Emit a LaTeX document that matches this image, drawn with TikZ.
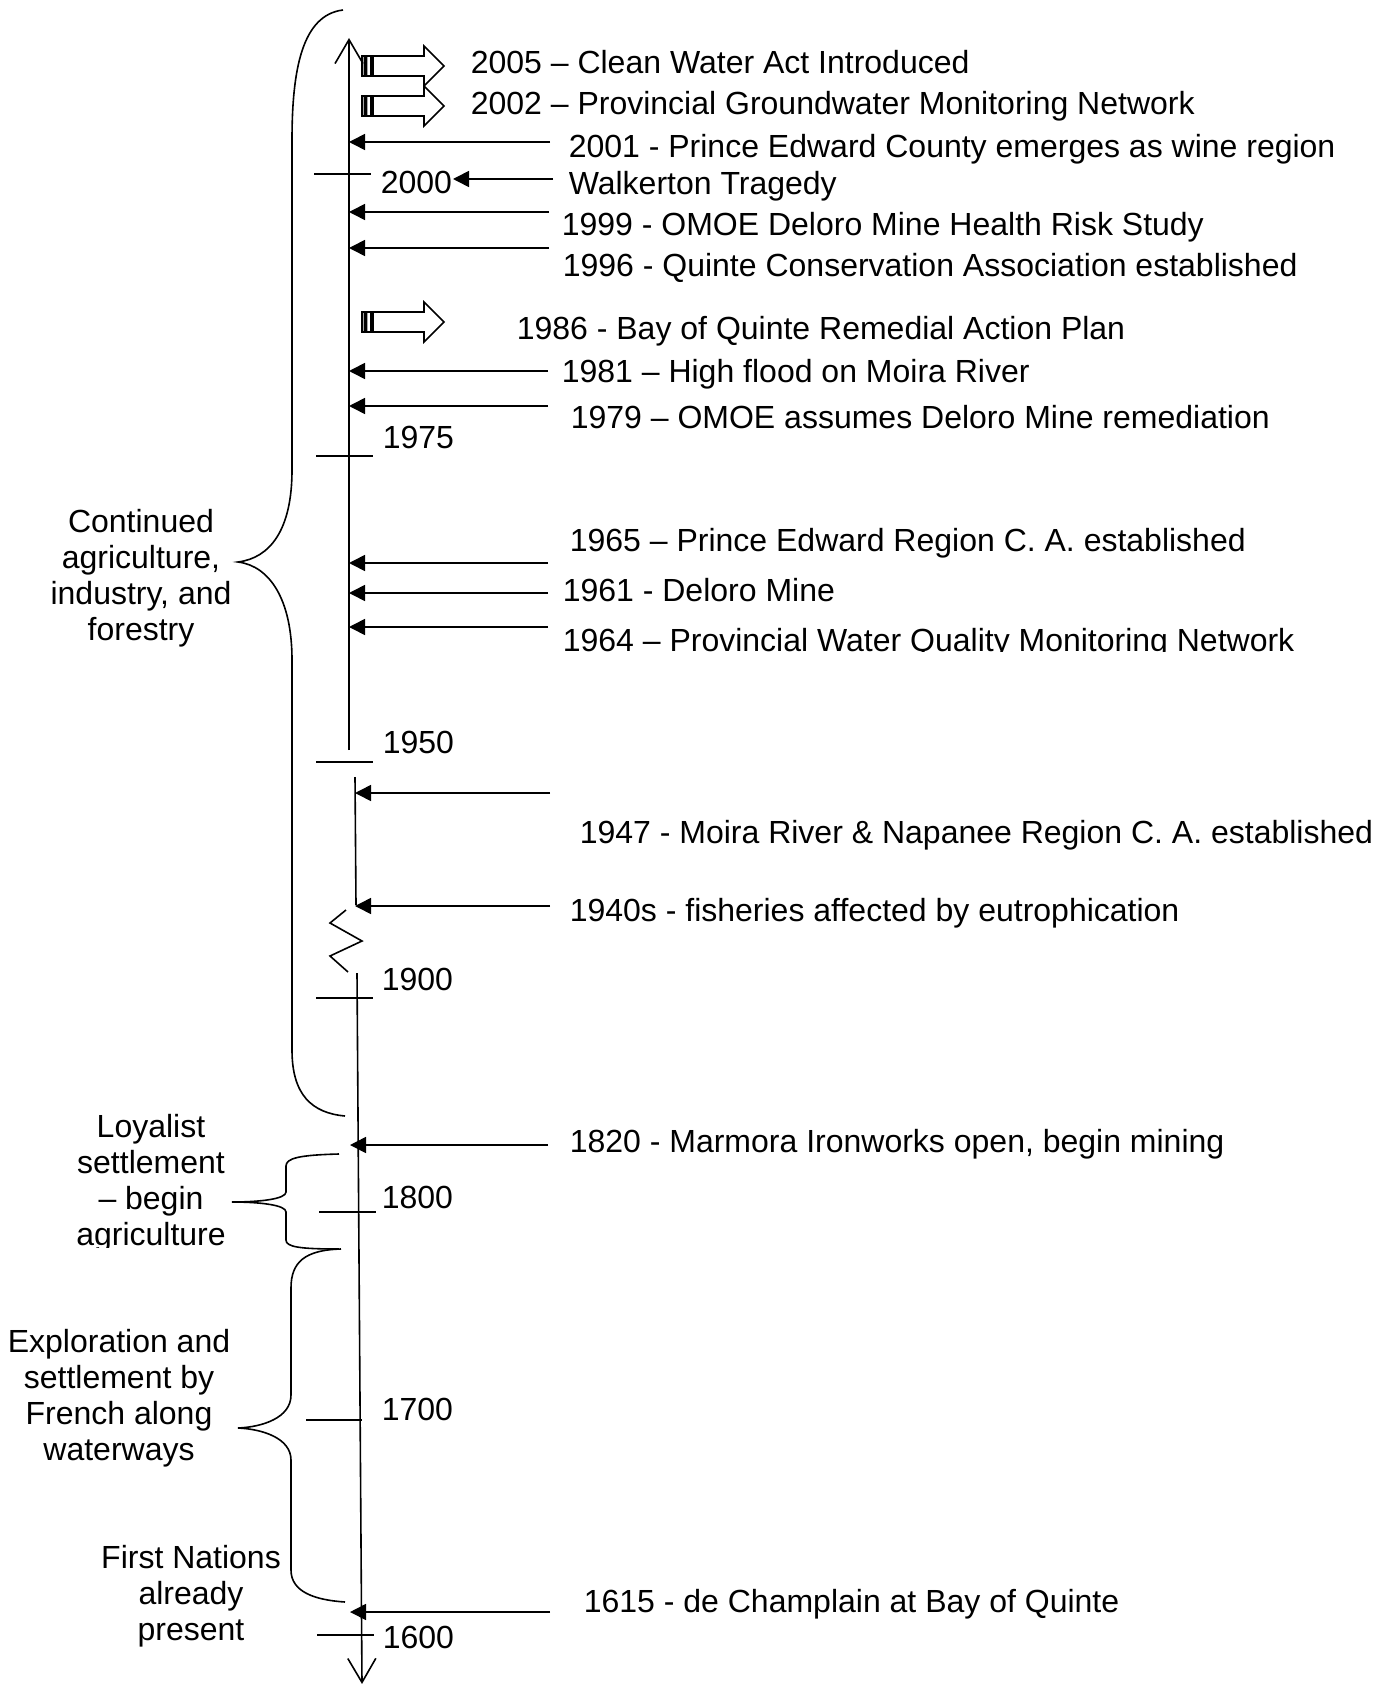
\documentclass[tikz,border=0pt]{standalone}
\usepackage{fontspec}
\setmainfont{Liberation Sans}
\usetikzlibrary{arrows.meta}
\begin{document}
\begin{tikzpicture}[x=0.5pt,y=-0.5pt,line width=0.8pt,
  lbl/.style={font=\fontsize{16}{18}\selectfont,inner sep=0pt,anchor=base west},
  side/.style={font=\fontsize{16}{18}\selectfont,inner sep=0pt,align=center},
  evt/.style={-{Triangle[length=8pt,width=8pt]}},
  axisline/.style={line width=0.8pt},
  openend/.style={-{Straight Barb[length=12pt,width=14pt]}},
  tickmark/.style={line width=0.8pt},
  bracestyle/.style={line width=0.8pt},
  stripedarrow/.pic={
    \draw[line width=0.8pt] (0,-10) rectangle (2.5,10) (4.5,-10) rectangle (9,10)
      (11,-10) -- (62,-10) -- (62,-20) -- (82,0) -- (62,20) -- (62,10) -- (11,10) -- cycle;}]
\useasboundingbox (0,0) rectangle (1386,1684);

% ---- axis ----
\coordinate (axTop) at (349,38);
\coordinate (axA) at (349,750);
\coordinate (axB1) at (355,777);
\coordinate (axB2) at (356,905);
\coordinate (axC1) at (357,973);
\coordinate (axBot) at (362,1684);
\draw[axisline,openend] (axA) -- (axTop);
\draw[axisline] (axB1) -- (axB2);
\draw[axisline] (346,910) -- (330,923) -- (362,941) -- (330,956) -- (348,972);
\draw[axisline,openend] (axC1) -- (axBot);

% ---- ticks ----
\draw[tickmark] (314,174) -- (371,174);
\draw[tickmark] (316,456) -- (373,456);
\draw[tickmark] (316,762) -- (373,762);
\draw[tickmark] (316,998) -- (373,998);
\draw[tickmark] (319,1212) -- (376,1212);
\draw[tickmark] (306,1420) -- (362,1420);
\draw[tickmark] (317,1635) -- (374,1635);

% ---- year labels ----
\node[lbl] (y2000) at (380,194) {2000};
\node[lbl] (y1975) at (382,448) {1975};
\node[lbl] (y1950) at (382,753) {1950};
\node[lbl] (y1900) at (381,990) {1900};
\node[lbl] (y1800) at (381,1208) {1800};
\node[lbl] (y1700) at (381,1420) {1700};
\node[lbl] (y1600) at (382,1648) {1600};

% ---- striped block arrows ----
\pic at (362,66) {stripedarrow};
\pic at (362,106) {stripedarrow};
\pic at (362,322) {stripedarrow};

% ---- event labels ----
\node[lbl] (e2005) at (470,74) {2005 – Clean Water Act Introduced};
\node[lbl] (e2002) at (470,115) {2002 – Provincial Groundwater Monitoring Network};
\node[lbl] (e2001) at (568,158) {2001 - Prince Edward County emerges as wine region};
\node[lbl] (eWalk) at (568,195) {Walkerton Tragedy};
\node[lbl] (e1999) at (561,236) {1999 - OMOE Deloro Mine Health Risk Study};
\node[lbl] (e1996) at (562,277) {1996 - Quinte Conservation Association established};
\node[lbl] (e1986) at (516,340) {1986 - Bay of Quinte Remedial Action Plan};
\node[lbl] (e1981) at (561,383) {1981 – High flood on Moira River};
\node[lbl] (e1979) at (570,429) {1979 – OMOE assumes Deloro Mine remediation};
\node[lbl] (e1965) at (569,551) {1965 – Prince Edward Region C. A. established};
\node[lbl] (e1961) at (562,601) {1961 - Deloro Mine};
\begin{scope}
\clip (540,612) rectangle (1386,651);
\node[lbl] (e1964) at (562,651) {1964 – Provincial Water Quality Monitoring Network};
\end{scope}
\node[lbl] (e1947) at (579,843) {1947 - Moira River \& Napanee Region C. A. established};
\node[lbl] (e1940) at (569,921) {1940s - fisheries affected by eutrophication};
\node[lbl] (e1820) at (569,1152) {1820 - Marmora Ironworks open, begin mining};
\node[lbl] (e1615) at (583,1612) {1615 - de Champlain at Bay of Quinte};

% ---- event connectors ----
\foreach \n/\sx/\tx/\yy in {a2001/550/349/142, a2000/553/453/179, a1999/549/349/212,
  a1996/549/349/248, a1981/548/349/371, a1979/548/349/406, a1965/548/349/563,
  a1961/548/349/593, a1964/548/349/627, a1947/550/355/793, a1940/550/355/906,
  a1820/548/350/1145, a1615/550/350/1612}{
  \coordinate (\n s) at (\sx,\yy);
  \coordinate (\n t) at (\tx,\yy);
  \draw[evt] (\n s) -- (\n t);
}

% ---- braces ----
\draw[bracestyle] (343,10) .. controls (302,15) and (292,70) .. (292,140) -- (292,470)
  .. controls (292,530) and (270,558) .. (238,562)
  .. controls (270,566) and (292,600) .. (292,660) -- (292,1050)
  .. controls (292,1095) and (312,1113) .. (345,1116);
\draw[bracestyle] (339,1154) .. controls (300,1155) and (286,1158) .. (286,1166) -- (286,1192)
  .. controls (286,1199) and (260,1202) .. (232,1202)
  .. controls (260,1202) and (286,1205) .. (286,1212) -- (286,1240)
  .. controls (286,1247) and (300,1249) .. (339,1249);
\draw[bracestyle] (341,1249) .. controls (305,1250) and (291,1262) .. (291,1288) -- (291,1395)
  .. controls (291,1418) and (262,1427) .. (238,1428)
  .. controls (262,1429) and (291,1438) .. (291,1460) -- (291,1570)
  .. controls (291,1592) and (315,1600) .. (345,1602);

% ---- side labels ----
\node[side] (sCont) at (141,578) {Continued\\agriculture,\\industry, and\\forestry};
\begin{scope}
\clip (0,1090) rectangle (300,1247);
\node[side] (sLoy) at (151,1183) {Loyalist\\settlement\\– begin\\agriculture};
\end{scope}
\node[side] (sExp) at (119,1398) {Exploration and\\settlement by\\French along\\waterways};
\node[side] (sFN) at (191,1596) {First Nations\\already\\present};
\end{tikzpicture}
\end{document}
